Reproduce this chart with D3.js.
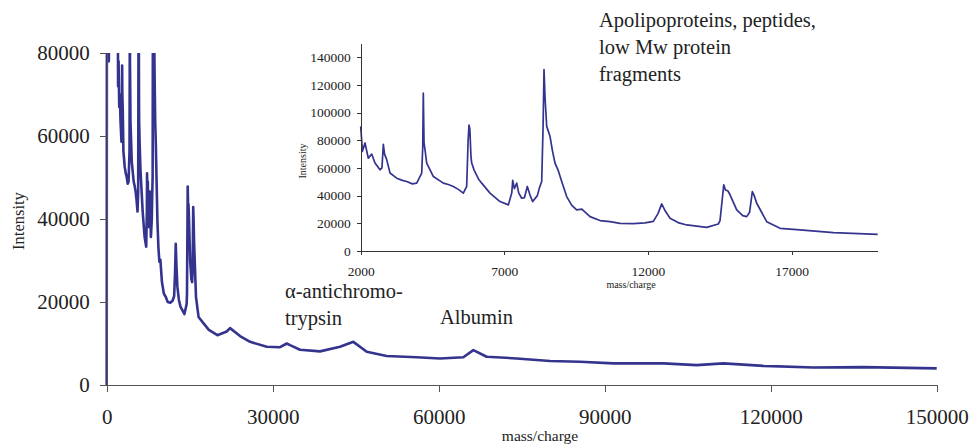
<!DOCTYPE html>
<html>
<head>
<meta charset="utf-8">
<script src="https://cdn.jsdelivr.net/npm/d3@7"></script>
<style>
  body { margin: 0; background: #fff; }
  .axis path, .axis line { stroke: #555; shape-rendering: crispEdges; }
  .inset .axis path, .inset .axis line { stroke: #333; }
</style>
</head>
<body>
<svg id="chart" width="970" height="444"></svg>
<script>
// spectrum: [mass/charge, intensity]
const spectrum = [
  [0, 0], [60, 160000], [250, 79500], [380, 78000], [500, 95000], [1500, 110000],
  [1990, 92000], [2000, 90000], [2060, 72000], [2150, 78000], [2265, 67000], [2383, 70000],
  [2498, 63500], [2672, 58600], [2740, 60000], [2788, 77000], [2830, 70000], [2905, 66000],
  [3021, 56300], [3253, 52600], [3450, 51000], [3602, 50200], [3800, 48500], [3950, 49000],
  [4124, 56300], [4160, 75000], [4180, 114000], [4205, 78000], [4240, 73000], [4298, 63500],
  [4530, 53800], [4877, 49000], [5050, 48000], [5225, 46600], [5400, 44500], [5573, 41800],
  [5690, 46600], [5740, 80000], [5771, 91000], [5800, 88000], [5840, 68000], [5865, 63500],
  [5945, 58600], [6100, 52000], [6213, 49000], [6502, 41800], [6850, 35700], [7140, 33300],
  [7260, 42000], [7293, 51000], [7350, 45000], [7432, 49000], [7500, 42000], [7606, 38100],
  [7700, 38500], [7801, 46600], [7900, 40000], [7989, 35700], [8150, 40000], [8219, 45400],
  [8302, 50200], [8350, 90000], [8382, 131000], [8420, 110000], [8476, 90000], [8591, 82800],
  [8680, 72000], [8765, 63500], [8880, 58000], [8998, 50200], [9172, 39300], [9350, 33000],
  [9520, 29700], [9700, 30200], [9984, 24800], [10332, 22000], [10680, 21200], [11028, 20000],
  [11492, 19800], [11900, 20300], [12188, 21400], [12350, 27000], [12480, 34000], [12600, 29000],
  [12770, 23700], [13050, 20500], [13350, 18800], [14047, 17100], [14450, 19500], [14510, 22000],
  [14640, 47800], [14700, 44000], [14780, 43500], [14859, 40600], [15091, 29700], [15300, 25500],
  [15440, 24800], [15540, 28000], [15635, 42900], [15700, 40000], [15788, 34500], [16136, 21200],
  [16600, 16400], [17296, 15200], [18457, 13300], [20000, 12000], [21690, 12900], [22290, 13700],
  [24100, 11800], [25910, 10400], [28920, 9200], [31330, 9100], [32550, 10000], [33130, 9600],
  [34940, 8500], [38550, 8100], [42170, 9200], [44580, 10400], [46990, 8000], [50600, 7000],
  [56030, 6700], [60240, 6400], [64450, 6700], [66260, 8400], [68670, 6800], [74090, 6400],
  [80120, 5800], [85530, 5600], [91560, 5200], [100600, 5200], [106630, 4800], [111450, 5200],
  [118680, 4600], [127710, 4200], [136750, 4300], [150000, 4000]
];

const mainXTicks = [0, 30000, 60000, 90000, 120000, 150000];
const mainYTicks = [0, 20000, 40000, 60000, 80000];
const insetXTicks = [2000, 7000, 12000, 17000];
const insetYTicks = [0, 20000, 40000, 60000, 80000, 100000, 120000, 140000];

const notes = [
  { lines: ["Apolipoproteins, peptides,", "low Mw protein", "fragments"], x: 599, y: 27 },
  { lines: ["\u03b1-antichromo-", "trypsin"], x: 285, y: 298 },
  { lines: ["Albumin"], x: 440, y: 324 }
];

const serif = "'Liberation Serif', 'Times New Roman', Times, 'DejaVu Serif', serif";
const lineColor = "#34348f";
const svg = d3.select("#chart");

// main chart
const x = d3.scaleLinear().domain([0, 150000]).range([106.7, 936.7]);
const y = d3.scaleLinear().domain([0, 80000]).range([385, 53]);

svg.append("clipPath").attr("id", "clipMain")
  .append("rect").attr("x", 100).attr("y", 53).attr("width", 840).attr("height", 332);

svg.append("path")
  .datum(spectrum)
  .attr("clip-path", "url(#clipMain)")
  .attr("fill", "none")
  .attr("stroke", lineColor)
  .attr("stroke-width", 2.6)
  .attr("stroke-linejoin", "round")
  .attr("d", d3.line().x(d => x(d[0])).y(d => y(d[1])));

svg.append("g").attr("class", "axis")
  .attr("transform", "translate(0,385)")
  .call(d3.axisBottom(x).tickValues(mainXTicks).tickFormat(d3.format("d"))
    .tickSize(7).tickSizeOuter(0).tickPadding(17))
  .call(g => g.selectAll("text").style("font-size", "21px"));

svg.append("g").attr("class", "axis")
  .attr("transform", "translate(106.7,0)")
  .call(d3.axisLeft(y).tickValues(mainYTicks).tickFormat(d3.format("d"))
    .tickSize(7).tickSizeOuter(0).tickPadding(10))
  .call(g => g.selectAll("text").style("font-size", "21px"));

svg.append("text").attr("x", 540).attr("y", 441)
  .attr("text-anchor", "middle").style("font-size", "15.5px").text("mass/charge");
svg.append("text").attr("transform", "translate(24,221) rotate(-90)")
  .attr("text-anchor", "middle").style("font-size", "16.5px").text("Intensity");

// inset
const ix = d3.scaleLinear().domain([2000, 20000]).range([360.7, 877.7]);
const iy = d3.scaleLinear().domain([0, 150000]).range([251, 43.3]);
const inset = svg.append("g").attr("class", "inset");

inset.append("path")
  .datum(spectrum.filter(d => d[0] >= 2000 && d[0] <= 20000))
  .attr("fill", "none")
  .attr("stroke", lineColor)
  .attr("stroke-width", 1.7)
  .attr("stroke-linejoin", "round")
  .attr("d", d3.line().x(d => ix(d[0])).y(d => iy(d[1])));

inset.append("g").attr("class", "axis")
  .attr("transform", "translate(0,251)")
  .call(d3.axisBottom(ix).tickValues(insetXTicks).tickFormat(d3.format("d"))
    .tickSize(4).tickSizeOuter(0).tickPadding(11))
  .call(g => g.selectAll("text").style("font-size", "13.5px"));

inset.append("g").attr("class", "axis")
  .attr("transform", "translate(360.7,0)")
  .call(d3.axisLeft(iy).tickValues(insetYTicks).tickFormat(d3.format("d"))
    .tickSize(4).tickSizeOuter(0).tickPadding(6))
  .call(g => g.selectAll("text").style("font-size", "13.5px"));

inset.append("text").attr("x", 631).attr("y", 288)
  .attr("text-anchor", "middle").style("font-size", "10px").text("mass/charge");
inset.append("text").attr("transform", "translate(306,161) rotate(-90)")
  .attr("text-anchor", "middle").style("font-size", "10px").text("Intensity");

// annotations
notes.forEach(n => {
  const t = svg.append("text").attr("x", n.x).attr("y", n.y).style("font-size", "20.5px");
  n.lines.forEach((s, i) => t.append("tspan").attr("x", n.x).attr("dy", i ? 27 : 0).text(s));
});

svg.selectAll("text").style("font-family", serif).style("fill", "#222");
</script>
</body>
</html>
